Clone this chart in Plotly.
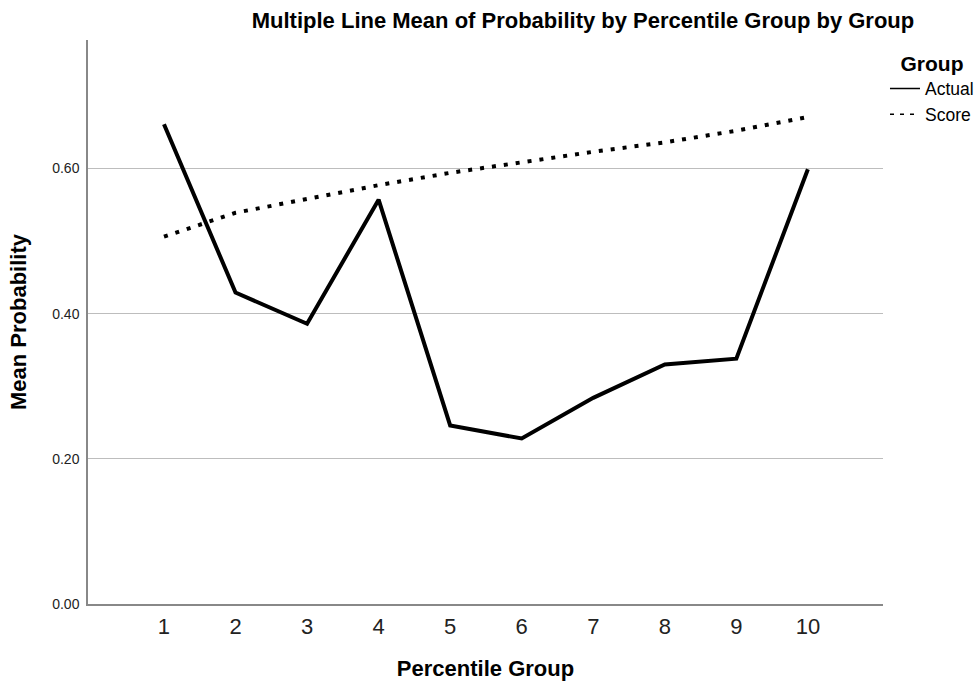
import plotly.graph_objects as go

groups = [1, 2, 3, 4, 5, 6, 7, 8, 9, 10]
actual = [0.661, 0.429, 0.386, 0.557, 0.246, 0.228, 0.284, 0.330, 0.338, 0.599]
score = [0.506, 0.539, 0.558, 0.577, 0.594, 0.609, 0.623, 0.636, 0.652, 0.671]
y_ticks = [0.0, 0.2, 0.4, 0.6]
y_tick_labels = ["0.00", "0.20", "0.40", "0.60"]

W, H = 980, 684

fig = go.Figure()
fig.add_trace(go.Scatter(x=groups, y=actual, mode="lines", name="Actual",
                         line=dict(color="black", width=4), showlegend=False))
fig.add_trace(go.Scatter(x=groups, y=score, mode="lines", name="Score",
                         line=dict(color="black", width=4, dash="4px,8px"), showlegend=False))
# legend entries (thin lines as in reference)
fig.add_trace(go.Scatter(x=[None], y=[None], mode="lines", name="Actual",
                         line=dict(color="black", width=1.5)))
fig.add_trace(go.Scatter(x=[None], y=[None], mode="lines", name="Score",
                         line=dict(color="black", width=1.5, dash="4px,6px")))

fig.update_layout(
    width=W, height=H,
    margin=dict(l=88, r=97, t=40, b=80, autoexpand=False),
    paper_bgcolor="white", plot_bgcolor="white",
    font=dict(family="Liberation Sans, Arial, sans-serif", color="black"),
    title=dict(text="<b>Multiple Line Mean of Probability by Percentile Group by Group</b>",
               x=583 / W, xanchor="center", y=1 - 20 / H, yanchor="middle",
               font=dict(size=22)),
    xaxis=dict(range=[-0.062, 11.05], tickmode="array", tickvals=groups,
               ticktext=[str(g) for g in groups], showgrid=False, zeroline=False,
               showline=True, linecolor="#888888", linewidth=1.5, ticks="",
               ticklabelstandoff=2, automargin=False,
               tickfont=dict(size=22, family="Liberation Sans, Arial", color="#222"),
               title=dict(text="<b>Percentile Group</b>", font=dict(size=22), standoff=22)),
    yaxis=dict(range=[0, 0.777], tickmode="array", tickvals=y_ticks, ticktext=y_tick_labels,
               showgrid=True, gridcolor="#bdbdbd", gridwidth=1, zeroline=False,
               showline=True, linecolor="#888888", linewidth=1.5, ticks="",
               ticklabelstandoff=4, automargin=False,
               tickfont=dict(size=14, family="Liberation Sans, Arial", color="#222"),
               title=dict(text="<b>Mean Probability</b>", font=dict(size=22), standoff=20)),
    legend=dict(x=1.0025, xanchor="left", y=0.994, yanchor="top",
                title=dict(text="<b>Group</b>", font=dict(size=21), side="top center"),
                font=dict(size=17.5), itemwidth=30, tracegroupgap=0,
                bgcolor="rgba(0,0,0,0)"),
)

fig.write_html("out.html", config={"displayModeBar": False},
               post_script="document.body.style.margin='0';document.body.style.overflow='hidden';")
